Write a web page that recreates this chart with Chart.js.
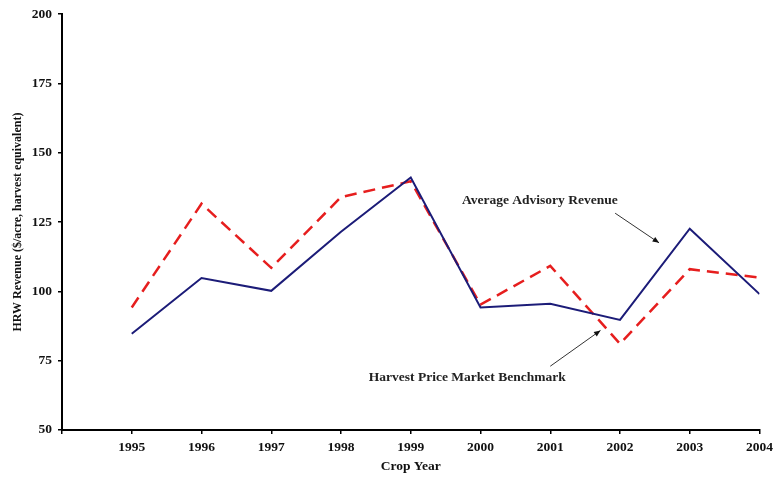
<!DOCTYPE html>
<html>
<head>
<meta charset="utf-8">
<script src="https://cdn.jsdelivr.net/npm/chart.js@4"></script>
<style>
  html, body { margin: 0; padding: 0; background: #fff; }
  #wrap { width: 778px; height: 479px; }
</style>
</head>
<body>
<div id="wrap"><canvas id="crop-chart" width="778" height="479"></canvas></div>
<script>
var years = [1995, 1996, 1997, 1998, 1999, 2000, 2001, 2002, 2003, 2004];
var advisory = [84.7, 104.8, 100.2, 121.5, 141.1, 94.2, 95.5, 89.7, 122.6, 99];
var benchmark = [94.2, 131.6, 108.5, 134, 139.7, 95.2, 109.2, 81.1, 108, 105];
var yTicks = [50, 75, 100, 125, 150, 175, 200];

// annotation labels, in data units (year, revenue)
var notes = [
    { text: 'Average Advisory Revenue', x: 2000.85, y: 132.9, from: [2001.93, 128.2], to: [2002.56, 117.5] },
    { text: 'Harvest Price Market Benchmark', x: 1999.81, y: 69, from: [2001.0, 73], to: [2001.72, 85.9] }
];

var font = 'Liberation Serif';

function toPoints(vals) {
    var pts = [];
    for (var i = 0; i < years.length; i++) {
        pts.push({ x: years[i], y: vals[i] });
    }
    return pts;
}

var notesPlugin = {
    id: 'notes',
    afterDraw: function(chart) {
        var ctx = chart.ctx;
        var xs = chart.scales.x, ys = chart.scales.y;
        ctx.save();
        ctx.font = 'bold 13.5px "' + font + '"';
        ctx.textAlign = 'center';
        ctx.textBaseline = 'middle';
        notes.forEach(function(n) {
            ctx.fillStyle = '#222';
            ctx.fillText(n.text, xs.getPixelForValue(n.x), ys.getPixelForValue(n.y));
            var x1 = xs.getPixelForValue(n.from[0]), y1 = ys.getPixelForValue(n.from[1]);
            var x2 = xs.getPixelForValue(n.to[0]), y2 = ys.getPixelForValue(n.to[1]);
            ctx.strokeStyle = '#333';
            ctx.lineWidth = 1;
            ctx.beginPath();
            ctx.moveTo(x1, y1);
            ctx.lineTo(x2, y2);
            ctx.stroke();
            var a = Math.atan2(y2 - y1, x2 - x1);
            ctx.fillStyle = '#111';
            ctx.beginPath();
            ctx.moveTo(x2, y2);
            ctx.lineTo(x2 - 7 * Math.cos(a - 0.4), y2 - 7 * Math.sin(a - 0.4));
            ctx.lineTo(x2 - 7 * Math.cos(a + 0.4), y2 - 7 * Math.sin(a + 0.4));
            ctx.closePath();
            ctx.fill();
        });
        ctx.restore();
    }
};

var ctx = document.getElementById('crop-chart').getContext('2d');

var cropChart = new Chart(ctx, {
    type: 'line',
    data: {
        datasets: [{
            label: 'Average Advisory Revenue',
            data: toPoints(advisory),
            borderColor: 'rgb(28, 28, 120)',
            borderWidth: 2,
            pointRadius: 0,
            tension: 0
        }, {
            label: 'Harvest Price Market Benchmark',
            data: toPoints(benchmark),
            borderColor: 'rgb(230, 30, 30)',
            borderWidth: 2.5,
            borderDash: [12, 7],
            pointRadius: 0,
            tension: 0
        }]
    },
    options: {
        responsive: false,
        animation: false,
        layout: { padding: { top: 12, right: 17, bottom: 0, left: 0 } },
        plugins: {
            legend: { display: false },
            tooltip: { enabled: false }
        },
        scales: {
            x: {
                type: 'linear',
                min: 1994,
                max: 2004,
                afterFit: function(s) { s.height = 49; },
                border: { color: '#000', width: 2 },
                grid: { drawOnChartArea: false, color: '#000', tickLength: 4, lineWidth: 1.5 },
                ticks: {
                    stepSize: 1,
                    color: '#111',
                    padding: 5,
                    font: { family: font, size: 13.5, weight: 'bold' },
                    callback: function(v) { return years.indexOf(v) >= 0 ? String(v) : ''; }
                },
                title: {
                    display: true,
                    text: 'Crop Year',
                    color: '#111',
                    font: { family: font, size: 13.5, weight: 'bold' },
                    padding: { top: 2, bottom: 4 }
                }
            },
            y: {
                min: 50,
                max: 200,
                afterFit: function(s) { s.width = 62; },
                afterBuildTicks: function(s) { s.ticks = yTicks.map(function(v) { return { value: v }; }); },
                border: { color: '#000', width: 2 },
                grid: { drawOnChartArea: false, color: '#000', tickLength: 4, lineWidth: 1.5 },
                ticks: {
                    color: '#111',
                    padding: 6,
                    font: { family: font, size: 13.5, weight: 'bold' }
                },
                title: {
                    display: true,
                    text: 'HRW Revenue ($/acre, harvest equivalent)',
                    color: '#111',
                    font: { family: font, size: 12, weight: 'bold' },
                    padding: { top: 11, bottom: 0 }
                }
            }
        }
    },
    plugins: [notesPlugin]
});
</script>
</body>
</html>
